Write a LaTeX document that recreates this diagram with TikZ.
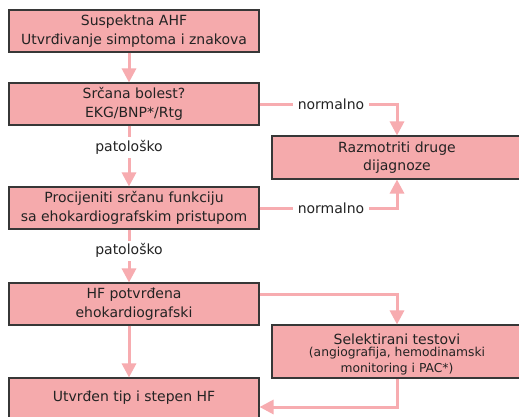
\documentclass[tikz,border=0pt]{standalone}
\usepackage{fontspec}
\setmainfont{DejaVu Sans}
\usetikzlibrary{arrows.meta}
\definecolor{boxfill}{RGB}{245,170,172}
\definecolor{boxline}{RGB}{55,55,55}
\definecolor{flow}{RGB}{247,172,176}
\definecolor{ink}{RGB}{35,35,35}
\newcommand{\smalltxt}{\fontsize{12.3}{15}\selectfont}
\tikzset{
  stepbox/.style={draw=boxline, line width=1.1pt, fill=boxfill, text=ink,
    minimum width=250pt, align=center, inner sep=0pt,
    font=\fontsize{14}{18.5}\selectfont},
  flowline/.style={draw=flow, line width=3pt,
    -{Triangle[width=14pt,length=14pt]}},
  tag/.style={fill=white, text=ink, inner xsep=5pt, inner ysep=3pt,
    font=\fontsize{14}{18}\selectfont}
}
\begin{document}
\begin{tikzpicture}[x=1pt,y=-1pt]
\clip (0,0) rectangle (519,416);
\fill[white] (0,0) rectangle (519,416);

% main column
\node[stepbox, minimum height=42pt] (b1) at (134,31) {Suspektna AHF\\Utvrđivanje simptoma i znakova};
\node[stepbox, minimum height=42pt] (b2) at (134,104) {Srčana bolest?\\EKG/BNP*/Rtg};
\node[stepbox, minimum height=42pt] (b3) at (134,208) {Procijeniti srčanu funkciju\\sa ehokardiografskim pristupom};
\node[stepbox, minimum height=42pt] (b4) at (134,304) {HF potvrđena\\ehokardiografski};
\node[stepbox, minimum height=40pt] (b5) at (134,398) {Utvrđen tip i stepen HF};

% side column
\node[stepbox, minimum height=43pt] (r1) at (397,157.5) {Razmotriti druge\\dijagnoze};
\node[stepbox, minimum height=53pt] (r2) at (397,351.5)
  {\rule{0pt}{16pt}Selektirani testovi\\[-6pt]{\smalltxt (angiografija, hemodinamski}\\[-3pt]{\smalltxt monitoring i PAC*)}};

% vertical flow
\draw[flowline] ([xshift=-5pt]b1.south) -- ([xshift=-5pt]b2.north);
\draw[flowline] ([xshift=-5pt]b2.south) -- node[tag, pos=0.36] {patološko} ([xshift=-5pt]b3.north);
\draw[flowline] ([xshift=-5pt]b3.south) -- node[tag, pos=0.40] {patološko} ([xshift=-5pt]b4.north);
\draw[flowline] ([xshift=-5pt]b4.south) -- ([xshift=-5pt]b5.north);

% side branches
\draw[flowline] (b2.east) -| node[tag, pos=0.26] {normalno} (r1.north);
\draw[flowline] (b3.east) -| node[tag, pos=0.26] {normalno} (r1.south);
\draw[flowline] ([yshift=10pt]b4.east) -| (r2.north);
\draw[flowline] (r2.south) |- ([yshift=-9pt]b5.east);
\end{tikzpicture}
\end{document}
